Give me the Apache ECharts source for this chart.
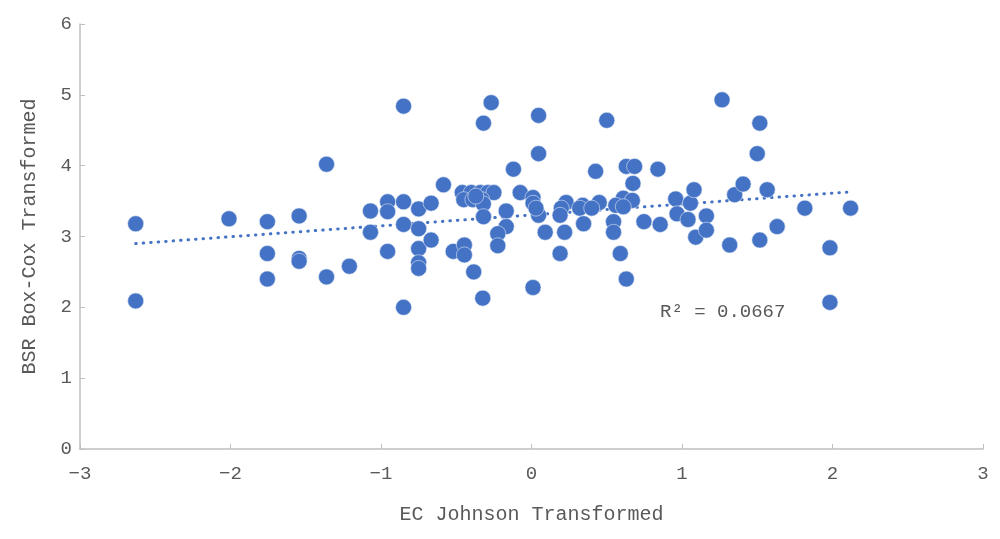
<!DOCTYPE html>
<html>
<head>
<meta charset="utf-8">
<script src="https://cdn.jsdelivr.net/npm/echarts@6/dist/echarts.min.js"></script>
<style>
  html, body { margin: 0; padding: 0; background: #fff; }
  #chart { width: 1000px; height: 539px; }
</style>
</head>
<body>
<div id="chart"></div>
<script>
// values
const ecValues = [
  -2.63, -2.63, -2.01, -1.755, -1.755, -1.755, -1.544, -1.544, -1.544, -1.362,
  -1.362, -1.21, -1.07, -1.07, -0.956, -0.956, -0.956, -0.85, -0.85, -0.85,
  -0.85, -0.75, -0.75, -0.75, -0.75, -0.75, -0.667, -0.667, -0.585, -0.52,
  -0.446, -0.446, -0.384, -0.324, -0.319, -0.268, -0.46, -0.40, -0.34, -0.29,
  -0.25, -0.45, -0.39, -0.33, -0.32, -0.37, -0.319, -0.168, -0.168, -0.224,
  -0.224, -0.12, -0.075, 0.01, 0.01, 0.047, 0.047, 0.047, 0.091, 0.01,
  0.23, 0.198, 0.19, 0.22, 0.19, 0.34, 0.32, 0.346, 0.45, 0.40,
  0.426, 0.50, 0.545, 0.545, 0.59, 0.63, 0.61, 0.56, 0.67, 0.61,
  0.63, 0.685, 0.674, 0.747, 0.84, 0.855, 0.958, 0.967, 1.04, 1.056,
  1.08, 1.091, 1.162, 1.162, 1.266, 1.317, 1.35, 1.406, 1.50, 1.517,
  1.517, 1.566, 1.632, 1.816, 1.983, 1.983, 2.12, 0.03
]
const bsrValues = [
  3.18, 2.09, 3.25, 3.21, 2.76, 2.40, 3.29, 2.69, 2.65, 4.02,
  2.43, 2.58, 3.36, 3.06, 3.49, 3.35, 2.79, 4.84, 3.49, 3.17,
  2.00, 3.39, 3.11, 2.83, 2.63, 2.55, 3.47, 2.95, 3.73, 2.79,
  2.88, 2.74, 2.50, 2.13, 4.60, 4.89, 3.62, 3.62, 3.62, 3.62,
  3.62, 3.52, 3.52, 3.52, 3.46, 3.57, 3.28, 3.36, 3.14, 3.04,
  2.87, 3.95, 3.62, 3.55, 3.47, 3.30, 4.71, 4.17, 3.06, 2.28,
  3.48, 3.40, 3.30, 3.06, 2.76, 3.44, 3.40, 3.18, 3.48, 3.40,
  3.92, 4.64, 3.21, 3.06, 2.76, 2.40, 3.54, 3.44, 3.51, 3.42,
  3.99, 3.99, 3.75, 3.21, 3.95, 3.17, 3.53, 3.32, 3.24, 3.47,
  3.66, 2.99, 3.29, 3.09, 4.93, 2.88, 3.59, 3.74, 4.17, 4.60,
  2.95, 3.66, 3.14, 3.40, 2.84, 2.07, 3.40, 3.40
]
// linear trend line end points as drawn in the reference
const trendX = [-2.63, 2.12]
const trendY = [2.90, 3.63]
const r2Label = 'R² = 0.0667'

const axisFont = "'Liberation Mono', monospace"
const grey = '#595959'

const chart = echarts.init(document.getElementById('chart'))
chart.setOption({
  animation: false,
  grid: { left: 80, right: 17, top: 24, bottom: 90 },
  xAxis: {
    type: 'value',
    min: -3,
    max: 3,
    interval: 1,
    name: 'EC Johnson Transformed',
    nameLocation: 'middle',
    nameGap: 56,
    nameTextStyle: { color: grey, fontSize: 20, fontFamily: axisFont },
    axisLine: { show: true, onZero: false, lineStyle: { color: '#bfbfbf', width: 1.5 } },
    axisTick: { show: true, inside: true, length: 5, lineStyle: { color: '#bfbfbf' } },
    axisLabel: {
      color: grey, fontSize: 19, fontFamily: axisFont, margin: 15,
      formatter: v => (v < 0 ? '\u2212' + Math.abs(v) : String(v)),
    },
    splitLine: { show: false },
  },
  yAxis: {
    type: 'value',
    min: 0,
    max: 6,
    interval: 1,
    name: 'BSR Box-Cox Transformed',
    nameLocation: 'middle',
    nameGap: 40,
    nameTextStyle: { color: grey, fontSize: 20, fontFamily: axisFont },
    axisLine: { show: true, onZero: false, lineStyle: { color: '#bfbfbf', width: 1.5 } },
    axisTick: { show: true, inside: true, length: 5, lineStyle: { color: '#bfbfbf' } },
    axisLabel: { color: grey, fontSize: 19, fontFamily: axisFont, margin: 8 },
    splitLine: { show: false },
  },
  series: [
    {
      type: 'line',
      data: trendX.map((x, i) => [x, trendY[i]]),
      symbol: 'none',
      z: 1,
      lineStyle: { color: '#4472C4', width: 3, type: [0.5, 7], cap: 'round' },
    },
    {
      type: 'scatter',
      data: ecValues.map((x, i) => [x, bsrValues[i]]),
      symbolSize: 16,
      z: 2,
      itemStyle: { color: '#4472C4', borderColor: '#dfe7f5', borderWidth: 0.6, opacity: 1 },
    },
  ],
  graphic: [{
    type: 'text',
    left: 660,
    top: 302,
    style: { text: r2Label, fill: grey, fontSize: 19, fontFamily: axisFont },
  }],
})
</script>
</body>
</html>
